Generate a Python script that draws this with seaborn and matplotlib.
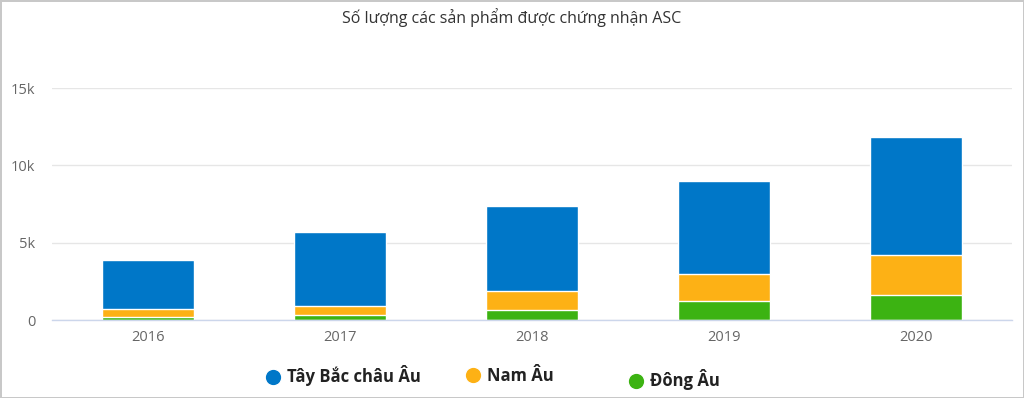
import pandas as pd
import matplotlib.pyplot as plt
import seaborn as sns
from matplotlib.lines import Line2D
from matplotlib.ticker import FuncFormatter

years = ['2016', '2017', '2018', '2019', '2020']
dong_au = [200, 300, 650, 1200, 1600]
nam_au = [500, 600, 1200, 1800, 2600]
tay_bac = [3200, 4800, 5550, 6000, 7600]

series_names = ['Tây Bắc châu Âu', 'Nam Âu', 'Đông Âu']
colors = ['#0077c8', '#fdb115', '#3cb312']

sns.set_theme(style='white')
plt.rcParams['font.family'] = ['Open Sans', 'DejaVu Sans']

df = pd.DataFrame({'Year': years, 'Dong': dong_au, 'Nam': nam_au, 'TayBac': tay_bac})
df['top_green'] = df['Dong']
df['top_orange'] = df['Dong'] + df['Nam']
df['top_blue'] = df['top_orange'] + df['TayBac']

fig = plt.figure(figsize=(10.24, 3.98), dpi=100)
fig.patch.set_edgecolor('#c8c8c8')
fig.patch.set_linewidth(2)
ax = fig.add_axes([52 / 1024, 1 - 320 / 398, 960 / 1024, 232 / 398])

# stacked by drawing cumulative totals, tallest first
for col, c in zip(['top_blue', 'top_orange', 'top_green'], colors):
    sns.barplot(x='Year', y=col, data=df, color=c, width=0.475, edgecolor='white',
                linewidth=1, saturation=1, ax=ax)

ax.set_ylim(0, 15000)
ax.set_xlim(-0.5, 4.5)
ax.set_yticks([0, 5000, 10000, 15000])
ax.yaxis.set_major_formatter(FuncFormatter(lambda v, p: '0' if v == 0 else f'{int(v / 1000)}k'))
ax.grid(axis='y', color='#e6e6e6', linewidth=1)
ax.set_axisbelow(True)
for s in ['top', 'right', 'left']:
    ax.spines[s].set_visible(False)
ax.spines['bottom'].set_color('#ccd6eb')
ax.spines['bottom'].set_linewidth(1)
ax.set_xlabel('')
ax.set_ylabel('')
ax.tick_params(axis='both', colors='#666666', labelsize=10.5, length=0)
ax.tick_params(axis='x', pad=7)
ax.tick_params(axis='y', pad=12)

fig.text(0.5, 1 - 18 / 398, 'Số lượng các sản phẩm được chứng nhận ASC', ha='center', va='center',
         fontsize=11.5, color='#333333')

# legend entries placed one by one, as in the original
legend_x = [265, 465, 628]
legend_y = [376, 376, 380]
for name, c, lx, ly in zip(series_names, colors, legend_x, legend_y):
    h = Line2D([0], [0], marker='o', color='w', markerfacecolor=c, markersize=12, linestyle='')
    leg = fig.legend([h], [name], loc='center left', bbox_to_anchor=(lx / 1024, 1 - ly / 398),
                     frameon=False, prop={'weight': 'bold', 'size': 12}, handletextpad=0.3,
                     handlelength=1.0, borderaxespad=0, borderpad=0, labelcolor='#222222')

plt.savefig('out.png', dpi=100)
plt.close()
